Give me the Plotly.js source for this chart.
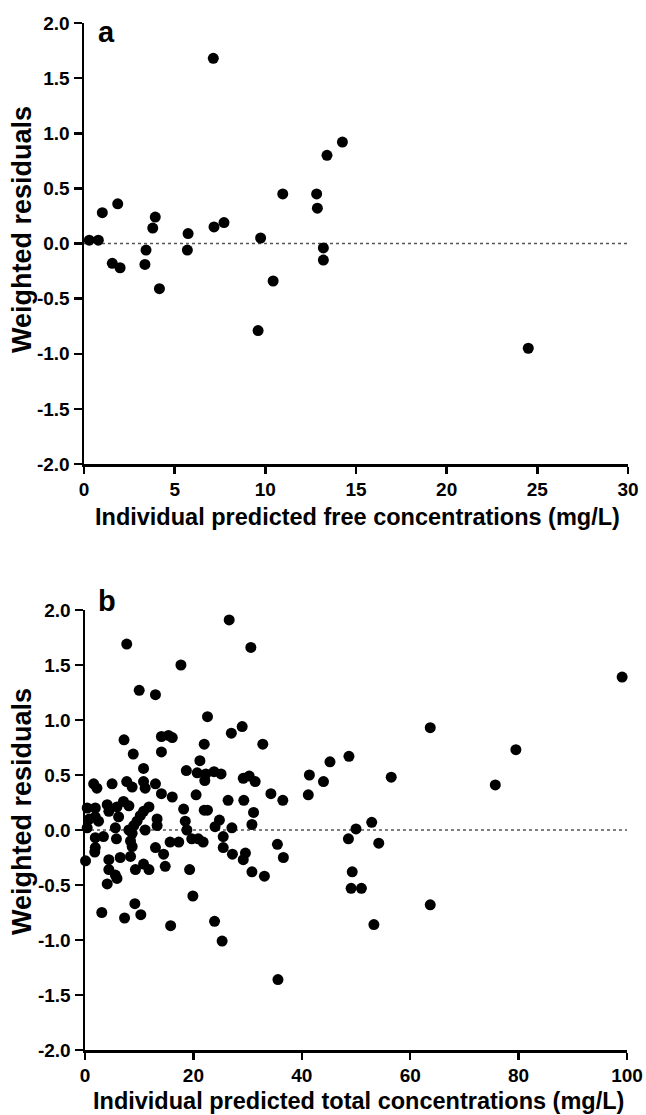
<!DOCTYPE html>
<html>
<head>
<meta charset="utf-8">
<script src="https://cdn.plot.ly/plotly-3.0.1.min.js"></script>
<style>
html,body{margin:0;padding:0;background:#fff;}
#chart{width:646px;height:1115px;}
</style>
</head>
<body>
<div id="chart"></div>
<script>
// Panel a: free concentrations
var freeX = [0.29,0.79,1.01,1.86,1.56,1.99,3.36,3.42,3.79,3.93,5.74,5.70,7.13,7.17,7.72,9.74,10.96,12.83,12.87,13.2,13.2,13.40,14.25,4.16,9.60,10.43,24.5];
var freeY = [0.03,0.03,0.28,0.36,-0.18,-0.22,-0.19,-0.06,0.14,0.24,0.09,-0.06,1.68,0.15,0.19,0.05,0.45,0.45,0.32,-0.04,-0.15,0.80,0.92,-0.41,-0.79,-0.34,-0.95];

// Panel b: total concentrations
var totalX = [26.6,7.7,30.6,17.7,10.0,13.0,22.6,29.0,27.0,7.2,14.1,15.4,16.1,14.1,32.8,63.7,45.2,48.7,99.1,79.5,8.9,10.8,22.0,21.2,18.7,20.7,22.3,23.8,25.1,22.1,56.5,41.4,44.0,29.2,30.3,31.4,75.7,
  1.6,2.2,5.0,7.7,8.7,10.8,11.1,13.0,14.1,16.1,
  0.4,1.9,4.1,4.4,5.9,7.1,8.1,11.8,10.8,10.2,9.6,9.0,6.2,1.9,2.5,0.4,0.8,5.6,8.1,8.7,11.1,13.3,13.3,18.2,18.5,18.8,
  1.9,3.4,1.9,1.8,5.8,8.4,8.7,8.4,0.1,4.4,6.5,4.4,5.6,5.9,9.3,10.8,11.8,13.0,14.5,14.8,15.7,17.3,4.1,19.3,19.7,20.9,21.8,
  22.0,22.6,20.5,26.4,24.0,24.8,25.5,27.1,25.5,27.2,29.3,31.1,30.8,29.6,29.2,30.8,34.3,36.5,41.2,35.5,36.6,33.1,
  48.6,50.0,52.9,54.2,49.3,49.1,51.0,63.7,53.3,
  3.1,7.3,9.2,10.3,15.8,23.9,25.3,19.9,35.6];
var totalY = [1.91,1.69,1.66,1.50,1.27,1.23,1.03,0.94,0.88,0.82,0.85,0.86,0.84,0.71,0.78,0.93,0.62,0.67,1.39,0.73,0.69,0.56,0.78,0.63,0.54,0.52,0.51,0.53,0.51,0.45,0.48,0.50,0.44,0.47,0.49,0.44,0.41,
  0.42,0.38,0.42,0.44,0.39,0.44,0.38,0.42,0.33,0.30,
  0.20,0.20,0.23,0.17,0.21,0.26,0.22,0.21,0.17,0.13,0.08,0.04,0.12,0.12,0.08,0.02,0.10,0.02,0.0,-0.03,0.0,0.10,0.04,0.19,0.08,0.0,
  -0.07,-0.06,-0.16,-0.20,-0.08,-0.10,-0.15,-0.24,-0.28,-0.27,-0.25,-0.36,-0.41,-0.44,-0.36,-0.31,-0.36,-0.16,-0.22,-0.33,-0.11,-0.11,-0.49,-0.36,-0.08,-0.08,-0.11,
  0.18,0.18,0.32,0.27,0.03,0.09,-0.06,0.02,-0.16,-0.22,0.27,0.16,0.05,-0.21,-0.27,-0.38,0.33,0.27,0.32,-0.13,-0.25,-0.42,
  -0.08,0.01,0.07,-0.12,-0.38,-0.53,-0.53,-0.68,-0.86,
  -0.75,-0.80,-0.67,-0.77,-0.87,-0.83,-1.01,-0.60,-1.36];

var yTickVals = [-2,-1.5,-1,-0.5,0,0.5,1,1.5,2];
var yTickText = ['-2.0','-1.5','-1.0','-0.5','0.0','0.5','1.0','1.5','2.0'];
var xTicksA = [0,5,10,15,20,25,30];
var xTicksB = [0,20,40,60,80,100];

var titleA = 'Individual predicted free concentrations (mg/L)';
var titleB = 'Individual predicted total concentrations (mg/L)';
var yTitle = 'Weighted residuals';

var FONT = 'Liberation Sans, Arial, sans-serif';
var xTitleFont = {family: FONT, size: 23.5, color: '#000', weight: 700};
var yTitleFont = {family: FONT, size: 27, color: '#000', weight: 700};

function bold(s) { return '<b>' + s + '</b>'; }

var marker = {color: '#000', size: 11, line: {width: 0}};

var traces = [
  {x: freeX, y: freeY, type: 'scatter', mode: 'markers', marker: marker, xaxis: 'x', yaxis: 'y', cliponaxis: false, hoverinfo: 'none'},
  {x: totalX, y: totalY, type: 'scatter', mode: 'markers', marker: marker, xaxis: 'x2', yaxis: 'y2', cliponaxis: false, hoverinfo: 'none'}
];

function xax(domain, range, ticks, anchor) {
  return {
    domain: domain, range: range, anchor: anchor,
    tickmode: 'array',
    tickvals: ticks, ticktext: ticks.map(function (t) { return bold(String(t)); }),
    showline: true, linecolor: '#000', linewidth: 2.5,
    ticks: 'outside', ticklen: 7, tickwidth: 2.5, tickcolor: '#000',
    showgrid: false, zeroline: false,
    tickfont: {family: FONT, size: 19, color: '#000', weight: 700}
  };
}
function yax(domain, anchor) {
  return {
    domain: domain, range: [-2, 2], anchor: anchor,
    tickmode: 'array',
    tickvals: yTickVals, ticktext: yTickText.map(bold),
    showline: true, linecolor: '#000', linewidth: 2.5,
    ticks: 'outside', ticklen: 8, tickwidth: 2.5, tickcolor: '#000',
    showgrid: false, zeroline: false,
    tickfont: {family: FONT, size: 19, color: '#000', weight: 700}
  };
}

function ann(text, x, y, font, angle) {
  return {text: bold(text), xref: 'paper', yref: 'paper', x: x / 646, y: 1 - y / 1115,
          xanchor: 'center', yanchor: 'middle', showarrow: false, font: font, textangle: angle || 0};
}

var layout = {
  width: 646, height: 1115,
  margin: {l: 0, r: 0, t: 0, b: 0},
  font: {family: FONT, size: 19, color: '#000', weight: 700},
  paper_bgcolor: '#fff', plot_bgcolor: '#fff',
  showlegend: false,
  xaxis: xax([84/646, 628/646], [0, 30], xTicksA, 'y'),
  yaxis: yax([1 - 464/1115, 1 - 23/1115], 'x'),
  xaxis2: xax([85/646, 627/646], [0, 100], xTicksB, 'y2'),
  yaxis2: yax([1 - 1050/1115, 1 - 610/1115], 'x2'),
  shapes: [
    {type: 'line', xref: 'x', yref: 'y', x0: 0, x1: 30, y0: 0, y1: 0, line: {color: '#555', width: 1.5, dash: 'dot'}, layer: 'below'},
    {type: 'line', xref: 'x2', yref: 'y2', x0: 0, x1: 100, y0: 0, y1: 0, line: {color: '#555', width: 1.5, dash: 'dot'}, layer: 'below'}
  ],
  annotations: [
    {text: '<b>a</b>', xref: 'paper', yref: 'paper', x: 96/646, y: 1 - 14/1115, xanchor: 'left', yanchor: 'top', showarrow: false, font: {family: FONT, size: 29, color: '#000', weight: 700}},
    {text: '<b>b</b>', xref: 'paper', yref: 'paper', x: 96/646, y: 1 - 583/1115, xanchor: 'left', yanchor: 'top', showarrow: false, font: {family: FONT, size: 29, color: '#000', weight: 700}},
    ann(titleA, 357, 517, xTitleFont),
    ann(titleB, 358, 1101, xTitleFont),
    ann(yTitle, 22, 230, yTitleFont, -90),
    ann(yTitle, 22, 812, yTitleFont, -90)
  ]
};

Plotly.newPlot('chart', traces, layout, {staticPlot: true, displayModeBar: false});
</script>
</body>
</html>
